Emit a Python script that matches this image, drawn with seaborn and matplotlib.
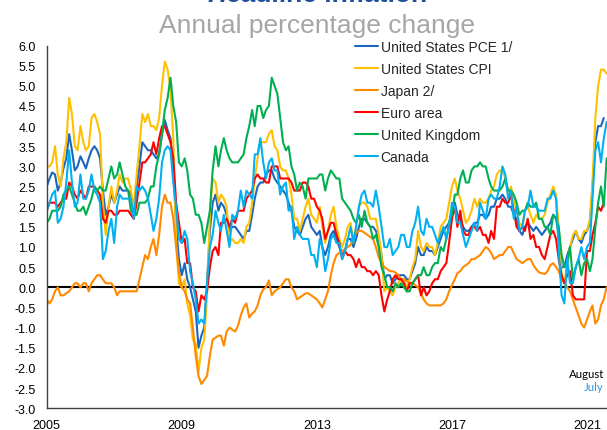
import numpy as np
import pandas as pd
import matplotlib
matplotlib.use("Agg")
import matplotlib.pyplot as plt
import seaborn as sns

# ---------------- data (monthly, annual % change, from Jan 2005) ----------------
us_pce = [
    2.5, 2.7, 2.85, 2.8, 2.4, 2.6, 2.95, 3.2, 3.8, 3.4, 2.9, 3.0,      # 2005
    3.25, 3.1, 2.95, 3.2, 3.4, 3.5, 3.4, 3.2, 2.4, 1.8, 2.0, 2.3,      # 2006
    2.1, 2.3, 2.5, 2.4, 2.4, 2.4, 2.3, 1.85, 2.5, 3.0, 3.6, 3.5,       # 2007
    3.4, 3.4, 3.3, 3.2, 3.3, 3.8, 4.15, 3.9, 3.7, 3.0, 1.5, 0.7,       # 2008
    0.3, 0.6, 0.2, 0.0, -0.3, -0.6, -1.5, -1.2, -1.0, 0.1, 1.4, 2.1,   # 2009
    2.3, 1.9, 2.1, 2.0, 1.8, 1.4, 1.5, 1.5, 1.4, 1.3, 1.2, 1.4,        # 2010
    1.4, 1.8, 2.2, 2.5, 2.6, 2.6, 2.8, 2.9, 2.9, 2.7, 2.6, 2.5,        # 2011
    2.4, 2.3, 2.1, 1.9, 1.5, 1.4, 1.3, 1.5, 1.7, 1.8, 1.5, 1.4,        # 2012
    1.3, 1.4, 1.0, 0.8, 1.0, 1.3, 1.4, 1.2, 1.0, 0.8, 0.9, 1.2,        # 2013
    1.2, 1.0, 1.2, 1.5, 1.7, 1.7, 1.6, 1.5, 1.5, 1.4, 1.2, 0.8,        # 2014
    0.2, 0.3, 0.3, 0.1, 0.2, 0.3, 0.3, 0.3, 0.2, 0.2, 0.4, 0.6,        # 2015
    1.0, 0.8, 0.8, 1.0, 0.9, 0.9, 0.8, 1.0, 1.2, 1.4, 1.5, 1.6,        # 2016
    1.9, 2.1, 1.8, 1.7, 1.5, 1.4, 1.4, 1.5, 1.6, 1.6, 1.8, 1.8,        # 2017
    1.7, 1.8, 2.0, 2.0, 2.2, 2.2, 2.3, 2.2, 2.0, 2.0, 1.8, 1.7,        # 2018
    1.4, 1.3, 1.5, 1.6, 1.5, 1.4, 1.5, 1.4, 1.3, 1.4, 1.5, 1.6,        # 2019
    1.8, 1.7, 1.3, 0.5, 0.5, 0.8, 1.0, 1.2, 1.4, 1.2, 1.1, 1.3,        # 2020
    1.4, 1.6, 2.5, 3.6, 4.0, 4.0, 4.2,                                  # 2021 (to July)
]
us_cpi = [
    3.0, 3.0, 3.1, 3.5, 2.8, 2.5, 3.2, 3.6, 4.7, 4.3, 3.5, 3.4,
    4.0, 3.6, 3.4, 3.5, 4.2, 4.3, 4.1, 3.8, 2.1, 1.3, 2.0, 2.5,
    2.1, 2.4, 2.8, 2.6, 2.7, 2.7, 2.4, 2.0, 2.8, 3.5, 4.3, 4.1,
    4.3, 4.0, 4.0, 3.9, 4.2, 5.0, 5.6, 5.4, 4.9, 3.7, 1.1, 0.1,
    0.0, 0.2, -0.4, -0.7, -1.3, -1.4, -2.1, -1.5, -1.3, -0.2, 1.8, 2.7,
    2.6, 2.1, 2.3, 2.2, 2.0, 1.1, 1.2, 1.1, 1.1, 1.2, 1.1, 1.5,
    1.6, 2.1, 2.7, 3.2, 3.6, 3.6, 3.6, 3.8, 3.9, 3.5, 3.4, 3.0,
    2.9, 2.9, 2.7, 2.3, 1.7, 1.7, 1.4, 1.7, 2.0, 2.2, 1.8, 1.7,
    1.6, 2.0, 1.5, 1.1, 1.4, 1.8, 2.0, 1.5, 1.2, 1.0, 1.2, 1.5,
    1.6, 1.1, 1.5, 2.0, 2.1, 2.1, 2.0, 1.7, 1.7, 1.7, 1.3, 0.8,
    -0.1, 0.0, -0.1, -0.2, 0.0, 0.1, 0.2, 0.2, 0.0, 0.2, 0.5, 0.7,
    1.4, 1.0, 0.9, 1.1, 1.0, 1.0, 0.8, 1.1, 1.5, 1.6, 1.7, 2.1,
    2.5, 2.7, 2.4, 2.2, 1.9, 1.6, 1.7, 1.9, 2.2, 2.0, 2.2, 2.1,
    2.1, 2.2, 2.4, 2.5, 2.8, 2.9, 2.9, 2.7, 2.3, 2.5, 2.2, 1.9,
    1.6, 1.5, 1.9, 2.0, 1.8, 1.6, 1.8, 1.7, 1.7, 1.8, 2.1, 2.3,
    2.5, 2.3, 1.5, 0.3, 0.1, 0.6, 1.0, 1.3, 1.4, 1.2, 1.2, 1.4,
    1.4, 1.7, 2.6, 4.2, 5.0, 5.4, 5.4, 5.3,
]
japan = [
    -0.3, -0.4, -0.3, -0.1, 0.0, -0.2, -0.2, -0.15, -0.1, 0.0, 0.1, 0.1,
    0.0, 0.1, 0.1, -0.1, 0.1, 0.2, 0.3, 0.3, 0.2, 0.1, 0.1, 0.1,
    0.0, -0.2, -0.1, -0.1, -0.1, -0.1, -0.1, -0.1, -0.1, 0.2, 0.5, 0.8,
    0.7, 1.0, 1.2, 0.8, 1.3, 2.0, 2.3, 2.1, 2.1, 1.7, 1.0, 0.4,
    0.0, -0.1, -0.3, -0.4, -1.0, -1.7, -2.2, -2.4, -2.3, -2.2, -1.7, -1.3,
    -1.25, -1.2, -1.2, -1.45, -1.1, -1.0, -1.05, -1.1, -0.95, -0.7, -0.5, -0.4,
    -0.75, -0.65, -0.6, -0.45, -0.2, -0.05, 0.0, 0.17, -0.2, -0.1, -0.05, 0.0,
    0.1, 0.2, 0.2, 0.0, -0.1, -0.3, -0.25, -0.2, -0.15, -0.15, -0.2, -0.25,
    -0.3, -0.4, -0.5, -0.3, -0.1, 0.3, 0.6, 0.8, 0.85, 0.9, 0.95, 1.0,
    1.05, 1.2, 1.35, 1.4, 1.4, 1.35, 1.3, 1.25, 1.2, 1.0, 0.75, 0.6,
    0.5, 0.45, 0.4, 0.4, 0.37, 0.3, 0.2, 0.2, 0.15, 0.12, 0.1, 0.05,
    0.0, -0.15, -0.3, -0.4, -0.45, -0.45, -0.45, -0.45, -0.45, -0.4, -0.3, -0.1,
    0.05, 0.2, 0.35, 0.4, 0.5, 0.55, 0.6, 0.7, 0.7, 0.75, 0.8, 0.9,
    1.0, 0.95, 0.85, 0.7, 0.75, 0.8, 0.8, 0.9, 1.0, 1.0, 0.85, 0.7,
    0.65, 0.6, 0.65, 0.7, 0.7, 0.55, 0.45, 0.37, 0.35, 0.33, 0.4, 0.55,
    0.6, 0.5, 0.4, 0.2, 0.1, 0.0, -0.1, -0.3, -0.5, -0.7, -0.9, -1.0,
    -0.8, -0.6, -0.45, -0.9, -0.8, -0.45, -0.3, 0.0,
]
euro_area = [
    1.9, 2.1, 2.1, 2.1, 2.0, 2.1, 2.2, 2.2, 2.6, 2.5, 2.3, 2.2,
    2.4, 2.3, 2.2, 2.5, 2.5, 2.5, 2.4, 2.3, 1.7, 1.6, 1.9, 1.9,
    1.8, 1.8, 1.9, 1.9, 1.9, 1.9, 1.8, 1.7, 2.1, 2.6, 3.1, 3.1,
    3.2, 3.3, 3.6, 3.3, 3.7, 4.0, 4.0, 3.8, 3.6, 3.2, 2.1, 1.6,
    1.1, 1.2, 0.6, 0.6, 0.0, -0.1, -0.6, -0.2, -0.3, -0.1, 0.5, 0.9,
    1.0, 0.8, 1.6, 1.6, 1.7, 1.5, 1.7, 1.6, 1.9, 1.9, 1.9, 2.2,
    2.3, 2.4, 2.7, 2.8, 2.7, 2.7, 2.6, 2.6, 3.0, 3.0, 3.0, 2.7,
    2.7, 2.7, 2.7, 2.6, 2.4, 2.4, 2.4, 2.6, 2.6, 2.5, 2.2, 2.2,
    2.0, 1.9, 1.7, 1.2, 1.4, 1.6, 1.6, 1.3, 1.1, 0.7, 0.9, 0.8,
    0.8, 0.7, 0.5, 0.7, 0.5, 0.5, 0.4, 0.4, 0.3, 0.4, 0.3, -0.2,
    -0.6, -0.3, -0.1, 0.2, 0.3, 0.2, 0.2, 0.1, -0.1, 0.1, 0.1, 0.2,
    0.3, -0.2, 0.0, -0.2, -0.1, 0.1, 0.2, 0.2, 0.4, 0.5, 0.6, 1.1,
    1.7, 2.0, 1.5, 1.9, 1.4, 1.3, 1.3, 1.5, 1.5, 1.4, 1.5, 1.3,
    1.3, 1.1, 1.4, 1.2, 2.0, 2.0, 2.2, 2.1, 2.1, 2.3, 1.9, 1.5,
    1.4, 1.5, 1.4, 1.7, 1.2, 1.3, 1.0, 1.0, 0.8, 0.7, 1.0, 1.3,
    1.4, 1.2, 0.7, 0.3, 0.1, 0.3, 0.4, -0.2, -0.3, -0.3, -0.3, -0.3,
    0.9, 0.9, 1.3, 1.6, 2.0, 1.9, 2.1,
]
united_kingdom = [
    1.6, 1.7, 1.9, 1.9, 1.9, 2.0, 2.3, 2.4, 2.5, 2.3, 2.1, 1.9,
    1.9, 2.0, 1.8, 2.0, 2.2, 2.5, 2.4, 2.5, 2.4, 2.4, 2.7, 3.0,
    2.7, 2.8, 3.1, 2.8, 2.5, 2.4, 1.9, 1.8, 1.8, 2.1, 2.1, 2.1,
    2.2, 2.5, 2.5, 3.0, 3.3, 3.8, 4.4, 4.7, 5.2, 4.5, 4.1, 3.1,
    3.0, 3.2, 2.9, 2.3, 2.2, 1.8, 1.8, 1.6, 1.1, 1.5, 1.9, 2.9,
    3.5, 3.0, 3.4, 3.7, 3.4, 3.2, 3.1, 3.1, 3.1, 3.2, 3.3, 3.7,
    4.0, 4.4, 4.0, 4.5, 4.5, 4.2, 4.4, 4.5, 5.2, 5.0, 4.8, 4.2,
    3.6, 3.4, 3.5, 3.0, 2.8, 2.4, 2.6, 2.5, 2.2, 2.7, 2.7, 2.7,
    2.7, 2.8, 2.8, 2.4, 2.7, 2.9, 2.8, 2.7, 2.7, 2.2, 2.1, 2.0,
    1.9, 1.7, 1.6, 1.8, 1.5, 1.9, 1.6, 1.5, 1.2, 1.3, 1.0, 0.5,
    0.3, 0.0, 0.0, -0.1, 0.1, 0.0, 0.1, 0.0, -0.1, -0.1, 0.1, 0.2,
    0.3, 0.3, 0.5, 0.3, 0.3, 0.5, 0.6, 0.6, 1.0, 0.9, 1.2, 1.6,
    1.8, 2.3, 2.3, 2.7, 2.9, 2.6, 2.6, 2.9, 3.0, 3.0, 3.1, 3.0,
    3.0, 2.7, 2.5, 2.4, 2.4, 2.4, 2.5, 2.7, 2.4, 2.4, 2.3, 2.1,
    1.8, 1.9, 1.9, 2.1, 2.0, 2.0, 2.1, 1.7, 1.7, 1.5, 1.5, 1.3,
    1.8, 1.7, 1.5, 0.8, 0.5, 0.6, 1.0, 0.2, 0.5, 0.7, 0.3, 0.6,
    0.7, 0.4, 0.7, 1.5, 2.1, 2.5, 2.0, 3.2,
]
canada = [
    1.9, 2.1, 2.3, 2.4, 1.6, 1.7, 2.0, 2.6, 3.4, 2.6, 2.0, 2.1,
    2.8, 2.2, 2.2, 2.4, 2.8, 2.4, 2.3, 2.1, 0.7, 0.9, 1.4, 1.7,
    1.1, 2.0, 2.3, 2.2, 2.2, 2.2, 2.2, 1.7, 2.5, 2.4, 2.5, 2.4,
    2.2, 1.8, 1.4, 1.7, 2.2, 3.1, 3.4, 3.5, 3.4, 2.6, 2.0, 1.2,
    1.1, 1.4, 1.2, 0.4, 0.1, -0.3, -0.9, -0.8, -0.9, 0.1, 1.0, 1.3,
    1.9, 1.6, 1.4, 1.8, 1.4, 1.0, 1.8, 1.7, 1.9, 2.4, 2.0, 2.4,
    2.3, 2.2, 3.3, 3.3, 3.7, 3.1, 2.7, 3.1, 3.2, 2.9, 2.9, 2.3,
    2.5, 2.6, 1.9, 2.0, 1.2, 1.5, 1.3, 1.2, 1.2, 1.2, 0.8, 0.8,
    0.5, 1.2, 1.0, 0.4, 0.7, 1.2, 1.3, 1.1, 1.1, 0.7, 0.9, 1.2,
    1.5, 1.1, 1.5, 2.0, 2.3, 2.4, 2.1, 2.1, 2.0, 2.4, 2.0, 1.5,
    1.0, 1.0, 1.2, 0.8, 0.9, 1.0, 1.3, 1.3, 1.0, 1.0, 1.4, 1.6,
    2.0, 1.4, 1.3, 1.7, 1.5, 1.5, 1.3, 1.1, 1.3, 1.5, 1.2, 1.5,
    2.1, 2.0, 1.6, 1.6, 1.3, 1.0, 1.2, 1.4, 1.6, 1.4, 2.1, 1.9,
    1.7, 2.2, 2.3, 2.2, 2.2, 2.5, 3.0, 2.8, 2.2, 2.4, 1.7, 2.0,
    1.4, 1.5, 1.9, 2.0, 2.4, 2.0, 2.0, 1.9, 1.9, 1.9, 2.2, 2.2,
    2.4, 2.2, 0.9, -0.2, -0.4, 0.7, 0.1, 0.1, 0.5, 0.7, 1.0, 0.7,
    1.0, 1.1, 2.2, 3.4, 3.6, 3.1, 3.7, 4.1,
]

series_names = ["United States PCE 1/", "United States CPI", "Japan 2/",
                "Euro area", "United Kingdom", "Canada"]
series_values = [us_pce, us_cpi, japan, euro_area, united_kingdom, canada]
series_colors = ["#1B67BE", "#FFC000", "#FF8A00", "#FF0000", "#00B050", "#00B0F0"]

y_ticks = [-3.0, -2.5, -2.0, -1.5, -1.0, -0.5, 0.0, 0.5, 1.0, 1.5, 2.0, 2.5,
           3.0, 3.5, 4.0, 4.5, 5.0, 5.5, 6.0]
x_tick_years = [2005, 2009, 2013, 2017, 2021]

# ---------------- build tidy frame ----------------
frames = []
for name, vals in zip(series_names, series_values):
    dates = pd.date_range("2005-01-01", periods=len(vals), freq="MS")
    frames.append(pd.DataFrame({"date": dates, "value": vals, "series": name}))
df = pd.concat(frames, ignore_index=True)

# ---------------- figure ----------------
sns.set_style("white")
plt.rcParams["font.family"] = ["Liberation Sans", "DejaVu Sans"]

W, H = 607, 431
fig = plt.figure(figsize=(W / 100, H / 100), dpi=100)
ax = fig.add_axes([46.7 / W, 1 - 409.2 / H, (W - 46.7) / W, (409.2 - 46.5) / H])

sns.lineplot(data=df, x="date", y="value", hue="series", hue_order=series_names,
             palette=dict(zip(series_names, series_colors)), linewidth=1.5,
             ax=ax, legend=True)

ax.axhline(0, color="black", linewidth=1.5, zorder=1)

ax.set_ylim(-3.0, 6.0)
ax.set_yticks(y_ticks)
ax.set_yticklabels([f"{v:.1f}" for v in y_ticks])
ax.set_xlim(pd.Timestamp("2005-01-01"), pd.Timestamp("2021-08-05"))
ax.set_xticks([pd.Timestamp(f"{y}-01-01") for y in x_tick_years])
ax.set_xticklabels([str(y) for y in x_tick_years])
ax.set_xlabel("")
ax.set_ylabel("")

for s in ["top", "right"]:
    ax.spines[s].set_visible(False)
for s in ["left", "bottom"]:
    ax.spines[s].set_color("#404040")
    ax.spines[s].set_linewidth(1.0)
ax.tick_params(axis="both", direction="out", length=5, width=1.0, color="#404040",
               labelsize=9, labelcolor="black", pad=3)

handles, labels = ax.get_legend_handles_labels()
ax.legend(handles, labels, loc="upper left",
          bbox_to_anchor=(355 / W, 1 - 41 / H), bbox_transform=fig.transFigure,
          frameon=False, fontsize=10, handlelength=1.65, handletextpad=0.2,
          labelspacing=0.58, borderpad=0, borderaxespad=0)

# title is partly above the top edge in the reference
fig.text(317 / W, 1 - 2.5 / H, "Headline inflation", ha="center", va="baseline",
         fontsize=19, fontweight="bold", color="#1F4E99")
fig.text(317 / W, 1 - 33 / H, "Annual percentage change", ha="center", va="baseline",
         fontsize=19, color="#A6A6A6")

fig.text(604 / W, 1 - 378 / H, "August", ha="right", va="baseline",
         fontsize=8.2, color="black", family=["Lato", "DejaVu Sans"])
fig.text(604 / W, 1 - 391 / H, "July", ha="right", va="baseline",
         fontsize=8.2, color="#2E95DE", family=["Lato", "DejaVu Sans"])

fig.savefig("out.png", dpi=100)
